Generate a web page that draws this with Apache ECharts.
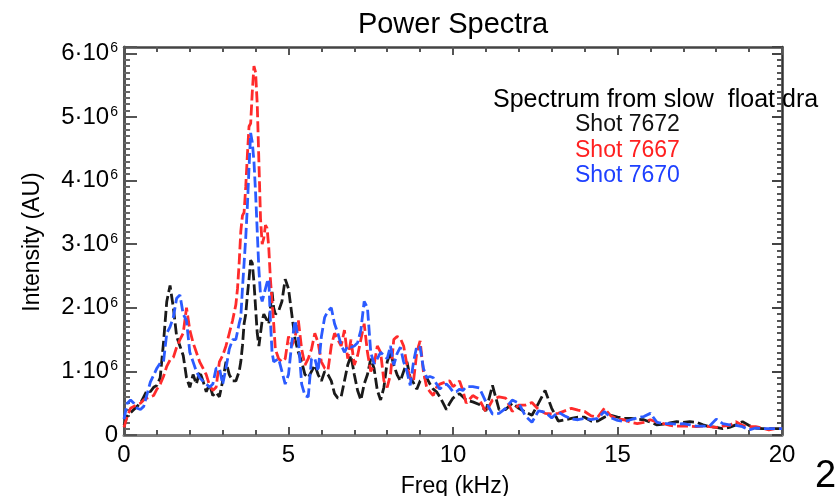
<!DOCTYPE html>
<html><head><meta charset="utf-8">
<script src="https://cdn.jsdelivr.net/npm/echarts@6/dist/echarts.min.js"></script>
<style>html,body{margin:0;padding:0;background:#fff}#c{width:836px;height:496px}</style>
</head><body><div id="c"></div>
<script>
// Frequency grid (kHz)
const freq = [
  0,0.1,0.2,0.3,0.4,0.5,0.6,0.7,0.8,0.9,1,1.1,1.2,1.3,1.4,1.5,1.6,1.7,1.8,1.9,2,2.1,2.2,2.3,2.4,2.5,2.6,2.7,2.8,2.9,3,3.1,3.2,3.3,3.4,
  3.45,3.5,3.55,3.6,3.65,3.7,3.75,3.8,3.85,3.9,3.95,4,4.05,4.1,4.15,4.2,4.25,4.3,4.35,4.4,4.45,4.5,4.55,4.6,
  4.7,4.8,4.9,5,5.1,5.2,5.3,5.4,5.5,5.6,5.7,5.8,5.9,6,6.1,6.2,6.3,6.4,6.5,6.6,6.7,6.8,6.9,7,7.1,7.2,7.3,7.4,7.5,7.6,7.7,7.8,7.9,8,8.1,8.2,8.3,8.4,8.5,8.6,8.7,8.8,8.9,9,9.1,9.2,9.3,9.4,9.5,9.6,9.7,9.8,9.9,10,10.1,10.2,10.3,10.4,
  10.6,10.8,11,11.2,11.4,11.6,11.8,12,12.2,12.4,12.6,12.8,13,13.2,13.4,13.6,13.8,14,14.2,14.4,14.6,14.8,15,15.2,15.4,15.6,15.8,16,16.2,16.4,16.6,16.8,17,17.2,17.4,17.6,17.8,18,18.2,18.4,18.6,18.8,19,19.2,19.4,19.6,19.8,20
];
// Intensity in units of 10^6 (AU)
const shot7672 = [
  0.15,0.3,0.35,0.4,0.45,0.5,0.6,0.7,0.68,0.75,0.78,0.9,1.45,2.1,2.35,2.0,1.55,1.4,1.25,0.9,0.75,0.95,0.8,1.0,0.85,0.68,0.8,0.62,0.67,0.6,0.85,1.15,0.95,0.85,0.85,
  0.85,1.0,1.15,1.4,1.75,1.9,2.2,2.45,2.75,2.7,2.4,2.0,1.6,1.4,1.6,1.8,1.9,1.85,1.8,1.75,2.0,2.25,2.0,1.9,
  1.95,2.1,2.45,2.3,1.9,1.5,1.3,1.15,0.95,0.9,1.0,1.1,0.95,0.85,1.0,0.95,0.85,0.65,0.58,0.6,0.85,1.1,1.25,0.95,0.7,0.55,0.8,0.95,1.2,1.05,0.7,0.55,0.75,1.15,1.3,1.1,0.95,0.85,1.0,1.15,0.9,0.82,0.72,0.85,0.88,0.9,0.8,0.72,0.68,0.6,0.5,0.4,0.5,0.58,0.62,0.65,0.6,0.55,
  0.52,0.48,0.38,0.78,0.4,0.4,0.5,0.42,0.36,0.31,0.5,0.7,0.42,0.22,0.24,0.26,0.28,0.28,0.22,0.22,0.28,0.31,0.28,0.26,0.26,0.25,0.24,0.2,0.16,0.17,0.19,0.21,0.2,0.21,0.2,0.16,0.13,0.12,0.1,0.12,0.16,0.21,0.15,0.11,0.1,0.1,0.1,0.1
];
const shot7667 = [
  0.12,0.3,0.42,0.45,0.48,0.5,0.55,0.58,0.6,0.62,0.72,0.8,0.92,1.08,1.18,1.22,1.38,1.5,1.6,2.0,1.65,1.45,1.3,1.15,1.05,0.95,0.78,0.7,0.75,1.15,1.25,1.4,1.6,1.8,2.05,
  2.3,2.7,3.2,3.45,3.5,3.9,4.4,4.85,4.9,5.4,5.8,5.7,5.2,4.3,3.4,3.0,3.1,3.3,3.25,2.95,2.45,2.1,1.75,1.35,
  1.2,1.15,1.2,1.55,1.4,1.55,1.8,1.35,1.1,1.2,1.35,1.6,1.45,1.15,1.05,1.02,1.4,1.6,1.5,1.4,1.65,1.2,1.5,1.1,1.25,1.5,1.75,1.3,1.0,1.1,1.4,1.3,0.85,0.75,0.95,1.5,1.55,1.52,1.4,1.1,0.88,0.85,1.3,1.48,1.0,0.75,0.68,0.62,0.75,0.8,0.82,0.84,0.85,0.76,0.8,0.85,0.7,0.5,
  0.62,0.56,0.36,0.55,0.6,0.58,0.37,0.47,0.47,0.51,0.4,0.34,0.33,0.34,0.38,0.42,0.39,0.37,0.3,0.28,0.42,0.3,0.25,0.24,0.2,0.18,0.2,0.24,0.2,0.18,0.15,0.14,0.14,0.14,0.13,0.14,0.13,0.12,0.14,0.15,0.21,0.15,0.13,0.13,0.11,0.08,0.1,0.1
];
const shot7670 = [
  0.25,0.5,0.55,0.5,0.42,0.4,0.45,0.64,0.83,0.94,1.05,1.13,1.15,1.6,1.7,1.85,2.15,2.2,1.9,1.8,1.3,1.15,1.0,0.9,0.85,0.8,0.75,0.8,1.05,1.05,0.8,1.05,1.35,1.5,1.5,
  1.5,1.75,1.85,2.3,2.7,3.1,3.6,4.2,4.75,4.6,4.3,3.8,3.2,2.6,2.2,2.1,2.1,2.3,2.4,2.45,1.8,1.3,1.15,1.15,
  1.2,1.0,0.8,0.95,1.45,1.8,1.5,0.8,0.62,0.6,1.2,1.2,1.0,1.55,1.85,1.95,2.0,1.75,1.6,1.42,1.3,1.4,1.38,1.4,1.45,1.65,2.1,2.0,1.3,1.12,1.2,1.3,1.25,1.2,1.4,1.1,1.28,1.38,1.15,1.0,0.78,1.15,1.4,1.38,1.05,0.9,0.92,0.9,0.8,0.72,0.78,0.8,0.75,0.68,0.68,0.72,0.7,0.76,
  0.76,0.74,0.52,0.33,0.34,0.42,0.55,0.5,0.3,0.2,0.38,0.36,0.27,0.36,0.3,0.25,0.24,0.26,0.24,0.26,0.37,0.27,0.23,0.21,0.24,0.27,0.29,0.34,0.2,0.18,0.18,0.17,0.18,0.16,0.14,0.14,0.14,0.25,0.18,0.16,0.15,0.13,0.08,0.11,0.1,0.1,0.1,0.1
];
const seriesNames = ['Shot 7672', 'Shot 7667', 'Shot 7670'];
const seriesColors = ['#1a1a1a', '#ff2b2b', '#2b5bff'];
const xTickLabels = ['0', '5', '10', '15', '20'];
const yTickExponent = '6';
const titleText = 'Power Spectra';
const legendHeader = 'Spectrum from slow  float dra';
const xName = 'Freq (kHz)';
const yName = 'Intensity (AU)';

const FF = '"Liberation Sans", Arial, Helvetica, sans-serif';
const chart = echarts.init(document.getElementById('c'), null, {renderer: 'canvas'});
const allValues = [shot7672, shot7667, shot7670];

function axisCommon(pos, showLabel, lineColor, lineW) {
  return {
    type: 'value', position: pos,
    axisLine: {show: true, onZero: false, lineStyle: {color: lineColor, width: lineW}},
    splitLine: {show: false},
    axisLabel: {show: showLabel},
  };
}

const option = {
  animation: false,
  backgroundColor: '#fff',
  title: {
    text: titleText, left: 453, top: 10, textAlign: 'center', padding: 0,
    textStyle: {fontFamily: FF, fontSize: 29, fontWeight: 'normal', color: '#000'}
  },
  grid: {left: 124, right: 54, top: 47, bottom: 61, outerBoundsMode: 'none', containLabel: false},
  xAxis: [
    Object.assign(axisCommon('bottom', true, '#808080', 3), {
      min: 0, max: 20, interval: 5,
      axisTick: {show: true, inside: true, length: 8, lineStyle: {color: '#555', width: 2}},
      minorTick: {show: true, splitNumber: 5, length: 5, lineStyle: {color: '#555', width: 2}},
      axisLabel: {show: true, margin: 8, fontFamily: FF, fontSize: 24, color: '#000',
        formatter: v => { const i = Math.round(v / 5); return xTickLabels[i] !== undefined ? xTickLabels[i] : ''; }}
    }),
    Object.assign(axisCommon('top', false, '#444', 2.5), {
      min: 0, max: 20, interval: 5,
      axisTick: {show: true, inside: true, length: 8, lineStyle: {color: '#555', width: 2}},
      minorTick: {show: true, splitNumber: 5, length: 5, lineStyle: {color: '#555', width: 2}}
    })
  ],
  yAxis: [
    Object.assign(axisCommon('left', true, '#555', 3), {
      min: 0, max: 6.1, interval: 1,
      axisTick: {show: true, inside: true, length: 13, lineStyle: {color: '#555', width: 2}},
      minorTick: {show: true, splitNumber: 10, length: 6, lineStyle: {color: '#666', width: 2}},
      axisLabel: {show: true, margin: 6, fontFamily: FF, color: '#000',
        formatter: v => {
          if (Math.abs(v - Math.round(v)) > 1e-6) return '';
          if (v === 0) return '{a|0}';
          return '{a|' + v + '·10}{s|' + yTickExponent + '}';
        },
        rich: {
          a: {fontFamily: FF, fontSize: 24, color: '#000'},
          s: {fontFamily: FF, fontSize: 14, color: '#000', verticalAlign: 'top', padding: [0, 0, 0, 1]}
        }
      }
    }),
    Object.assign(axisCommon('right', false, '#333', 2.5), {
      min: 0, max: 6.1, interval: 1,
      axisTick: {show: true, inside: true, length: 10, lineStyle: {color: '#444', width: 2}},
      minorTick: {show: true, splitNumber: 10, length: 5, lineStyle: {color: '#555', width: 2}}
    })
  ],
  series: allValues.map((vals, k) => ({
    name: seriesNames[k], type: 'line', xAxisIndex: 0, yAxisIndex: 0,
    showSymbol: false, symbol: 'none', smooth: false,
    data: freq.map((f, i) => [f, vals[i]]),
    lineStyle: {color: seriesColors[k], width: 2.8, type: [11, 4]},
    z: 2 + k
  })),
  graphic: [
    {type: 'text', left: 493, top: 88, z: 100,
      style: {text: legendHeader, fontFamily: FF, fontSize: 25, fill: '#000'}},
    {type: 'text', left: 575, top: 113, z: 100,
      style: {text: seriesNames[0], fontFamily: FF, fontSize: 23, fill: '#111'}},
    {type: 'text', left: 575, top: 139, z: 100,
      style: {text: seriesNames[1], fontFamily: FF, fontSize: 23, fill: '#ff2020'}},
    {type: 'text', left: 575, top: 164, z: 100,
      style: {text: seriesNames[2], fontFamily: FF, fontSize: 23, fill: '#1e40ff'}},
    {type: 'text', x: 455, y: 487, z: 100,
      style: {text: xName, fontFamily: FF, fontSize: 23, fill: '#000', align: 'center', verticalAlign: 'middle'}},
    {type: 'text', x: 33, y: 242, rotation: Math.PI / 2, z: 100,
      style: {text: yName, fontFamily: FF, fontSize: 23, fill: '#000', align: 'center', verticalAlign: 'middle'}},
    {type: 'text', left: 815, top: 458, z: 100,
      style: {text: '2', fontFamily: FF, fontSize: 38, fill: '#000'}}
  ]
};
chart.setOption(option);
</script>
</body></html>
